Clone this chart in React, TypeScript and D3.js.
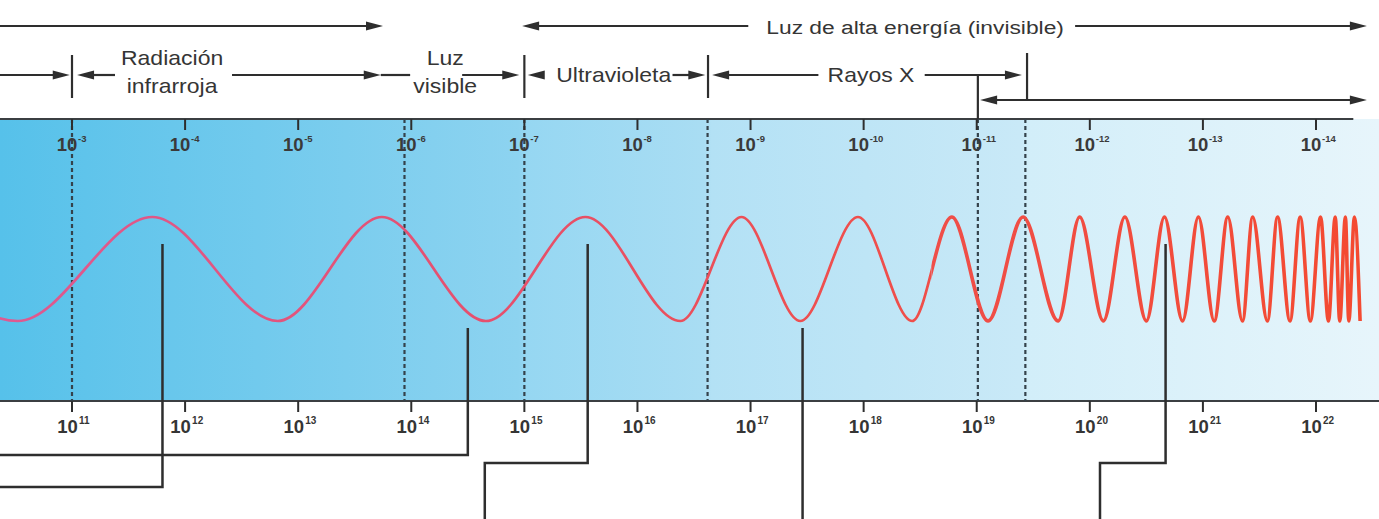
import React from "react";
import * as d3 from "d3";

const W = 1379;
const H = 519;

// bottom axis: frequency exponents (log10 Hz)
const freqTicks = [11, 12, 13, 14, 15, 16, 17, 18, 19, 20, 21, 22];
// top axis: wavelength exponents (log10 m)
const waveTicks = [-3, -4, -5, -6, -7, -8, -9, -10, -11, -12, -13, -14];

// dashed region boundaries (log10 Hz)
const boundaries = [11.0, 13.94, 15.0, 16.62, 19.01, 19.43];

// illustrated wave: crest and trough positions (log10 Hz)
const crestsF = [9.34, 11.71, 13.74, 15.54, 16.92, 17.95, 18.78, 19.41, 19.91, 20.31, 20.66, 20.96, 21.22, 21.44, 21.66, 21.86, 22.04, 22.17, 22.26, 22.34];
const troughsF = [10.52, 12.82, 14.66, 16.38, 17.44, 18.43, 19.1, 19.72, 20.12, 20.5, 20.82, 21.1, 21.35, 21.57, 21.77, 21.95, 22.11, 22.21, 22.29, 22.39];

// region labels (log10 Hz of label centre)
const regionLabels = [
  { f: 11.885, lines: ["Radiación", "infrarroja"] },
  { f: 14.3, lines: ["Luz", "visible"] },
];
const rowLabels = [
  { f: 15.79, text: "Ultravioleta" },
  { f: 18.065, text: "Rayos X" },
];
const topLabel = { f: 18.455, text: "Luz de alta energía (invisible)" };

// arrows: [start f (null = left edge), end f, head at start, head at end]
const row1Arrows: [number | null, number, boolean, boolean][] = [
  [null, 13.75, false, true],
  [14.98, 16.98, true, false],
  [19.87, 22.45, false, true],
];
const row2Arrows: [number | null, number, boolean, boolean][] = [
  [null, 10.98, false, true],
  [11.045, 11.38, true, false],
  [12.415, 13.73, false, true],
  [13.73, 13.99, false, false],
  [14.45, 14.955, false, true],
  [15.03, 15.12, true, false],
  [16.31, 16.6, false, true],
  [16.66, 17.6, true, false],
  [18.54, 19.4, false, true],
];
const row3Arrows: [number | null, number, boolean, boolean][] = [[19.03, 22.45, true, true]];
const row2Bars = [11.0, 15.0, 16.624, 19.445];

// leader lines to the wave: f, next horizontal target f (null = left edge, undefined = straight down)
const leaderF = [11.8, 14.5, 15.56, 17.46, 20.67];
const leaderToF: (number | null | undefined)[] = [null, null, 14.65, undefined, 20.09];

const INK = "#2e2e2e";
const TXT = "#353535";
const FONT = "'Liberation Sans', Arial, Helvetica, sans-serif";

export default function App() {
  const x = d3.scaleLinear().domain([11, 22]).range([72, 1316]);
  const xTop = d3.scaleLinear().domain([-3, -14]).range([72, 1316]);
  const yW = d3.scaleLinear().domain([-1, 1]).range([321, 217]);

  const bandTop = 119;
  const bandBot = 401;
  const row1 = 26;
  const row2 = 75;
  const row3 = 100;

  const pts: [number, number][] = [
    ...crestsF.map((f) => [f, 1] as [number, number]),
    ...troughsF.map((f) => [f, -1] as [number, number]),
  ].sort((a, b) => a[0] - b[0]);
  const wavePath = d3
    .line<[number, number]>()
    .x((d) => x(d[0]))
    .y((d) => yW(d[1]))
    .curve(d3.curveMonotoneX)(pts) as string;

  const HL = 17;
  const HW = 4.5;
  const arrow = (a: [number | null, number, boolean, boolean], y: number, key: string) => {
    const x1 = a[0] === null ? 0 : x(a[0]);
    const x2 = x(a[1]);
    const lx1 = a[2] ? x1 + HL - 2 : x1;
    const lx2 = a[3] ? x2 - HL + 2 : x2;
    return (
      <g key={key}>
        <line x1={lx1} x2={lx2} y1={y} y2={y} stroke={INK} strokeWidth={2.2} />
        {a[2] && <path d={`M${x1},${y}L${x1 + HL},${y - HW}L${x1 + HL},${y + HW}Z`} fill={INK} />}
        {a[3] && <path d={`M${x2},${y}L${x2 - HL},${y - HW}L${x2 - HL},${y + HW}Z`} fill={INK} />}
      </g>
    );
  };

  const b = boundaries.map((f) => x(f) / W);
  const stops: [number, string][] = [
    [0, "#56c1ea"],
    [b[2] - 0.004, "#8dd3f0"],
    [b[2] + 0.002, "#96d7f2"],
    [b[3] - 0.003, "#a9ddf3"],
    [b[3] + 0.003, "#b3e1f5"],
    [b[5] - 0.003, "#c9e9f7"],
    [b[5] + 0.003, "#d2eef9"],
    [1, "#e7f5fb"],
  ];

  const labelScale = 1.15;
  const splitX = x(18.6);

  return (
    <svg
      width={W}
      height={H}
      style={{ position: "absolute", left: 0, top: 0, background: "#fff" }}
      fontFamily={FONT}
    >
      <defs>
        <linearGradient id="band" x1="0" x2="1" y1="0" y2="0">
          {stops.map((s, i) => (
            <stop key={i} offset={s[0]} stopColor={s[1]} />
          ))}
        </linearGradient>
        <linearGradient id="waveCol" gradientUnits="userSpaceOnUse" x1={0} x2={W} y1={0} y2={0}>
          <stop offset={0} stopColor="#dd5a92" />
          <stop offset={0.35} stopColor="#e5506e" />
          <stop offset={0.6} stopColor="#ee4f4f" />
          <stop offset={1} stopColor="#f44a30" />
        </linearGradient>
        <clipPath id="leftPart">
          <rect x={0} y={0} width={splitX} height={H} />
        </clipPath>
        <clipPath id="rightPart">
          <rect x={splitX} y={0} width={W - splitX} height={H} />
        </clipPath>
      </defs>
      <rect width={W} height={H} fill="#fff" />

      {/* band */}
      <rect x={0} y={bandTop} width={W} height={bandBot - bandTop} fill="url(#band)" />
      <line x1={0} x2={x(22.33)} y1={bandTop} y2={bandTop} stroke="#3b3f42" strokeWidth={2.2} />
      <line x1={0} x2={W} y1={bandBot} y2={bandBot} stroke="#3b3f42" strokeWidth={2.2} />

      {/* dashed boundaries */}
      {boundaries.map((f, i) => (
        <line
          key={i}
          x1={x(f)}
          x2={x(f)}
          y1={bandTop}
          y2={bandBot}
          stroke="#34424b"
          strokeWidth={2.2}
          strokeDasharray="4 3"
        />
      ))}

      {/* top ticks */}
      {waveTicks.map((t) => (
        <g key={t} transform={`translate(${xTop(t)},0)`}>
          <line y1={bandTop} y2={bandTop + 11} stroke={INK} strokeWidth={2} />
          <text x={-5} y={151} textAnchor="middle" fontSize={18.5} fontWeight="bold" fill="#3a3a3a">
            10
          </text>
          <text x={6} y={142} fontSize={9.5} fontWeight="bold" fill="#3a3a3a">
            {t}
          </text>
        </g>
      ))}

      {/* bottom ticks */}
      {freqTicks.map((t) => (
        <g key={t} transform={`translate(${x(t)},0)`}>
          <line y1={bandBot} y2={bandBot + 11} stroke={INK} strokeWidth={2} />
          <text x={-4.5} y={433} textAnchor="middle" fontSize={18.5} fontWeight="bold" fill={TXT}>
            10
          </text>
          <text x={7} y={424} fontSize={10} fontWeight="bold" fill={TXT}>
            {t}
          </text>
        </g>
      ))}

      {/* wave */}
      <path d={wavePath} fill="none" stroke="url(#waveCol)" strokeWidth={2.7} clipPath="url(#leftPart)" />
      <path d={wavePath} fill="none" stroke="url(#waveCol)" strokeWidth={3.6} clipPath="url(#rightPart)" />

      {/* leader lines */}
      {leaderF.map((f, i) => {
        const lx = x(f);
        const yi = pts.reduce((best, p) => (Math.abs(p[0] - f) < Math.abs(best[0] - f) ? p : best), pts[0]);
        const startY = yi[1] > 0 ? yW(1) + 27 : yW(-1) + 7;
        const to = leaderToF[i];
        let d = `M${lx},${startY}`;
        if (to === null) {
          const yy = i === 0 ? 487 : 455;
          d += `V${yy}H0`;
        } else if (to === undefined) {
          d += `V${H}`;
        } else {
          d += `V463H${x(to)}V${H}`;
        }
        return <path key={i} d={d} fill="none" stroke={INK} strokeWidth={2.5} />;
      })}

      {/* arrows rows */}
      {row1Arrows.map((a, i) => arrow(a, row1, "r1" + i))}
      {row2Arrows.map((a, i) => arrow(a, row2, "r2" + i))}
      {row3Arrows.map((a, i) => arrow(a, row3, "r3" + i))}
      {row2Bars.map((f, i) => (
        <line
          key={i}
          x1={x(f)}
          x2={x(f)}
          y1={i === 3 ? 53 : 55}
          y2={i === 3 ? 100 : 98}
          stroke={INK}
          strokeWidth={2.2}
        />
      ))}
      <line x1={x(19.01)} x2={x(19.01)} y1={row2} y2={bandTop} stroke={INK} strokeWidth={2.2} />

      {/* labels */}
      <text
        transform={`translate(${x(topLabel.f)},34) scale(1.2,1)`}
        textAnchor="middle"
        fontSize={19}
        fill={TXT}
      >
        {topLabel.text}
      </text>
      {regionLabels.map((l, i) => (
        <g key={i}>
          {l.lines.map((s, j) => (
            <text
              key={j}
              transform={`translate(${x(l.f)},${j === 0 ? 65 : 93}) scale(${labelScale},1)`}
              textAnchor="middle"
              fontSize={20}
              fill={TXT}
            >
              {s}
            </text>
          ))}
        </g>
      ))}
      {rowLabels.map((l, i) => (
        <text
          key={i}
          transform={`translate(${x(l.f)},82) scale(${labelScale},1)`}
          textAnchor="middle"
          fontSize={20}
          fill={TXT}
        >
          {l.text}
        </text>
      ))}
    </svg>
  );
}
